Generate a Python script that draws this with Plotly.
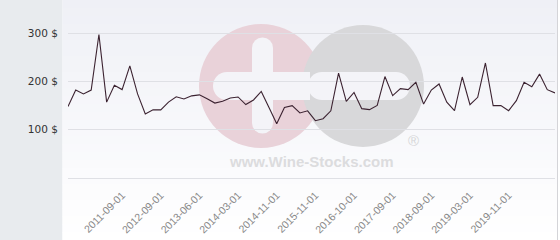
import plotly.graph_objects as go

# ---- data ----
prices = [148, 182, 174, 182, 297, 157, 192, 183, 232, 174,
          132.5, 141, 141, 157, 168, 163.5, 170, 172, 164, 155,
          159, 165.6, 167.7, 152, 161.5, 179, 146, 112.4, 146, 149.7,
          134.6, 139, 118.6, 122.8, 139, 217, 158.6, 177, 143.5, 141.4,
          150.3, 210, 170.4, 185, 182.8, 198, 153, 182, 194.6, 157,
          139.3, 209, 151.8, 167, 238, 149.7, 149.7, 139.3, 160, 198,
          189, 215, 182.8, 176]
tick_index = [7, 12, 17, 22, 27, 32, 37, 42, 47, 52, 57]
tick_labels = ["2011-09-01", "2012-09-01", "2013-06-01", "2014-03-01",
               "2014-11-01", "2015-11-01", "2016-10-01", "2017-09-01",
               "2018-09-01", "2019-03-01", "2019-11-01"]
y_ticks = [100, 200, 300]
y_labels = ["100 $", "200 $", "300 $"]

x_idx = list(range(len(prices)))

# ---- geometry helpers (pixel -> paper) ----
L, R, T, B = 68, 555, 5, 178
W, H = R - L, B - T
def xp(px):
    return (px - L) / W
def yp(py):
    return (B - py) / H

shapes = []

# left grey panel
shapes.append(dict(type="rect", xref="paper", yref="paper", x0=xp(0), x1=xp(62.5),
                   y0=yp(240), y1=yp(0), fillcolor="#e8ebee", line_width=0, layer="below"))

# gradient background in plot region
nb = 30
c_top = (239, 240, 246)
c_bot = (255, 255, 255)
for i in range(nb):
    f = i / (nb - 1)
    col = tuple(round(c_top[k] + (c_bot[k] - c_top[k]) * f) for k in range(3))
    y0 = 240 * i / nb
    y1 = 240 * (i + 1) / nb
    shapes.append(dict(type="rect", xref="paper", yref="paper", x0=xp(62.5), x1=xp(557.5),
                       y0=yp(y1 + 0.5), y1=yp(y0), fillcolor="rgb(%d,%d,%d)" % col,
                       line_width=0, layer="below"))

# right border line
shapes.append(dict(type="line", xref="paper", yref="paper", x0=xp(557.5), x1=xp(557.5),
                   y0=yp(240), y1=yp(0), line=dict(color="#d4d4d8", width=1), layer="below"))

def circle(cx, cy, r, color):
    shapes.append(dict(type="circle", xref="paper", yref="paper", x0=xp(cx - r), x1=xp(cx + r),
                       y0=yp(cy + r), y1=yp(cy - r), fillcolor=color, line_width=0, layer="below"))

def rect(x0, y0, x1, y1, color):
    shapes.append(dict(type="rect", xref="paper", yref="paper", x0=xp(x0), x1=xp(x1),
                       y0=yp(y1), y1=yp(y0), fillcolor=color, line_width=0, layer="below"))

# watermark circles
circle(261, 86, 62, "#e9d2d9")
circle(363, 86, 61, "#d8d8da")

bar = "#f4f4f8"
# plus: horizontal bar
rect(227, 72, 310, 100, bar)
circle(227, 86, 14, bar)
# plus: vertical bar
rect(252, 48, 273, 123, bar)
circle(262.5, 48, 10.5, bar)
circle(262.5, 123, 10.5, bar)
# minus bar
rect(322, 72, 396, 100, bar)
circle(322, 86, 14, bar)
circle(396, 86, 14, bar)

fig = go.Figure()
fig.add_trace(go.Scatter(x=x_idx, y=prices, mode="lines",
                         line=dict(color="#3b2230", width=1.1),
                         hoverinfo="skip", cliponaxis=False))

annotations = [
    dict(xref="paper", yref="paper", x=xp(311), y=yp(161), text="<b>www.Wine-Stocks.com</b>",
         showarrow=False, font=dict(family="Liberation Sans, Arial", size=15, color="#dcdcde"),
         xanchor="center", yanchor="middle"),
    dict(xref="paper", yref="paper", x=xp(413), y=yp(140), text="®",
         showarrow=False, font=dict(family="Liberation Sans, Arial", size=15, color="#d6d6d8"),
         xanchor="center", yanchor="middle"),
]

fig.update_layout(
    width=560, height=240,
    margin=dict(l=L, r=560 - R, t=T, b=240 - B, pad=0),
    paper_bgcolor="white",
    plot_bgcolor="rgba(0,0,0,0)",
    showlegend=False,
    shapes=shapes,
    annotations=annotations,
    xaxis=dict(range=[0, len(prices) - 1], tickmode="array", tickvals=tick_index,
               ticktext=tick_labels, tickangle=-45, showgrid=False, zeroline=False,
               showline=False, ticks="outside", ticklen=6, tickcolor="rgba(0,0,0,0)",
               tickfont=dict(family="Liberation Sans, Arial", size=10.5, color="#888888")),
    yaxis=dict(range=[0, 358], tickmode="array", tickvals=y_ticks, ticktext=y_labels,
               showgrid=True, gridcolor="#dfe0e5", gridwidth=1,
               zeroline=True, zerolinecolor="#dfe0e5", zerolinewidth=1,
               showline=False, ticks="outside", ticklen=7, tickcolor="rgba(0,0,0,0)",
               tickfont=dict(family="DejaVu Sans, Verdana", size=10.5, color="#333333")),
)

fig.write_html("out.html")
